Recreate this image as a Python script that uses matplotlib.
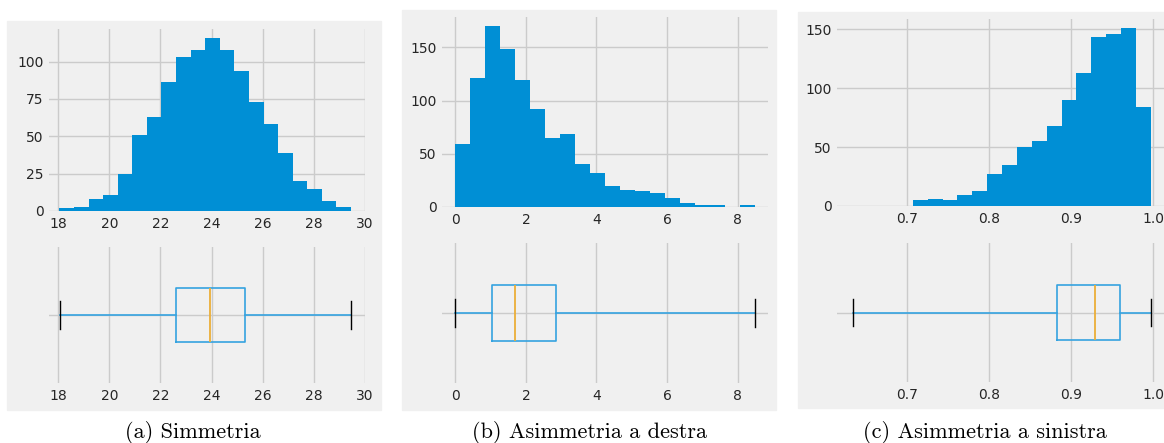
import numpy as np
import matplotlib
matplotlib.use("Agg")
import matplotlib.pyplot as plt
from matplotlib.patches import Rectangle

# histogram counts (20 bins each)
sym_counts = [2, 3, 8, 11, 25, 51, 63, 86, 103, 108, 116, 108, 94, 73, 58, 39, 20, 15, 7, 3]
sym_range = (18.05, 29.45)
right_counts = [59, 121, 170, 148, 119, 92, 65, 69, 40, 32, 20, 16, 15, 13, 8, 4, 2, 2, 0, 2]
right_range = (0.0, 8.48)
left_counts = [0, 0, 0, 0, 5, 6, 5, 9, 13, 27, 35, 50, 55, 68, 90, 113, 143, 146, 151, 84]
left_range = (0.634, 0.997)

# five-number summaries for the box plots: min, q1, median, q3, max
sym_box = [18.07, 22.62, 23.94, 25.29, 29.45]
right_box = [0.0, 1.04, 1.69, 2.84, 8.48]
left_box = [0.634, 0.883, 0.929, 0.959, 0.997]

captions = ["(a) Simmetria", "(b) Asimmetria a destra", "(c) Asimmetria a sinistra"]

W, H = 1164, 443
BG = "#f0f0f0"
BLUE = "#008fd5"
BOXBLUE = "#35a3e0"
GOLD = "#ebae38"
GRID = "#cbcbcb"
TXT = "#262626"

fig = plt.figure(figsize=(W / 100, H / 100), dpi=100, facecolor="white")


def rect(x0, y0, x1, y1):
    # pixel box (top-left origin) -> figure fraction
    return [x0 / W, 1 - y1 / H, (x1 - x0) / W, (y1 - y0) / H]


def style(ax, xlim, xticks):
    ax.set_facecolor(BG)
    for s in ax.spines.values():
        s.set_visible(False)
    ax.set_axisbelow(True)
    ax.grid(True, color=GRID, linewidth=1.0)
    ax.set_xlim(*xlim)
    ax.set_xticks(xticks)
    ax.tick_params(length=0, labelsize=10, labelcolor=TXT, pad=4)


panels = [
    dict(bg=(7, 21, 381, 410), hist=(49, 29, 365, 211), box=(49, 247, 365, 383),
         counts=sym_counts, rng=sym_range, stats=sym_box, xlim=(17.64, 29.96),
         xticks=[18, 20, 22, 24, 26, 28, 30], yticks=[0, 25, 50, 75, 100], cap_x=193),
    dict(bg=(402, 10, 776, 410), hist=(442, 17, 768, 207), box=(442, 243, 768, 383),
         counts=right_counts, rng=right_range, stats=right_box, xlim=(-0.377, 8.86),
         xticks=[0, 2, 4, 6, 8], yticks=[0, 50, 100, 150], cap_x=590),
    dict(bg=(798, 12, 1164, 408), hist=(837, 19, 1166, 206), box=(837, 243, 1166, 382),
         counts=left_counts, rng=left_range, stats=left_box, xlim=(0.614, 1.0155),
         xticks=[0.7, 0.8, 0.9, 1.0], yticks=[0, 50, 100, 150], cap_x=985),
]

for p, cap in zip(panels, captions):
    x0, y0, x1, y1 = p["bg"]
    fig.add_artist(Rectangle((x0 / W, 1 - y1 / H), (x1 - x0) / W, (y1 - y0) / H,
                             transform=fig.transFigure, color=BG, zorder=0))

    # histogram
    ax = fig.add_axes(rect(*p["hist"]))
    edges = np.linspace(p["rng"][0], p["rng"][1], len(p["counts"]) + 1)
    ax.hist(edges[:-1], bins=edges, weights=p["counts"], color=BLUE)
    style(ax, p["xlim"], p["xticks"])
    ax.set_yticks(p["yticks"])

    # box plot
    bx = fig.add_axes(rect(*p["box"]))
    lo, q1, med, q3, hi = p["stats"]
    stats = [dict(whislo=lo, q1=q1, med=med, q3=q3, whishi=hi, fliers=[])]
    bx.bxp(stats, orientation="horizontal", widths=0.4, showfliers=False,
           boxprops=dict(color=BOXBLUE, linewidth=1.2),
           whiskerprops=dict(color=BOXBLUE, linewidth=1.2),
           capprops=dict(color="black", linewidth=1.0),
           medianprops=dict(color=GOLD, linewidth=1.3))
    style(bx, p["xlim"], p["xticks"])
    bx.set_ylim(0.5, 1.5)
    bx.set_yticks([1])
    bx.set_yticklabels([""])

    fig.text(p["cap_x"] / W, 1 - 432 / H, cap, ha="center", va="center",
             fontsize=16, family="cmr10", color="black")

fig.savefig("out.png", dpi=100, facecolor="white")
